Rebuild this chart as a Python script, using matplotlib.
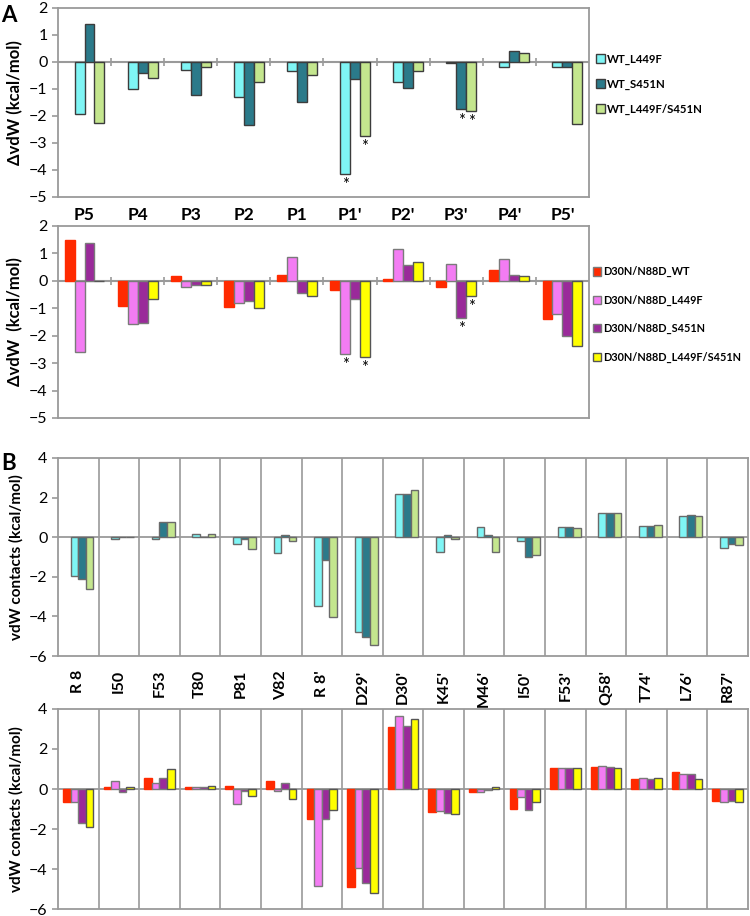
import numpy as np
import matplotlib
matplotlib.use('Agg')
import matplotlib.pyplot as plt
from matplotlib.patches import Patch

plt.rcParams['font.family'] = ['Lato', 'DejaVu Sans']

# ---- data: panel A (per-position delta vdW) ----
positions = ["P5", "P4", "P3", "P2", "P1", "P1'", "P2'", "P3'", "P4'", "P5'"]

wt_labels = ["WT_L449F", "WT_S451N", "WT_L449F/S451N"]
wt_l449f = [-1.94, -1.02, -0.29, -1.32, -0.34, -4.14, -0.73, -0.05, -0.19, -0.19]
wt_s451n = [1.40, -0.42, -1.22, -2.35, -1.49, -0.62, -0.97, -1.76, 0.39, -0.19]
wt_double = [-2.27, -0.58, -0.19, -0.76, -0.47, -2.73, -0.35, -1.81, 0.34, -2.29]
wt_stars = [(5, 0), (5, 2), (7, 1), (7, 2)]

dn_labels = ["D30N/N88D_WT", "D30N/N88D_L449F", "D30N/N88D_S451N", "D30N/N88D_L449F/S451N"]
dn_wt = [1.49, -0.91, 0.17, -0.96, 0.23, -0.34, 0.06, -0.23, 0.40, -1.38]
dn_l449f = [-2.61, -1.56, -0.23, -0.79, 0.88, -2.65, 1.15, 0.61, 0.78, -1.22]
dn_s451n = [1.39, -1.52, -0.17, -0.73, -0.46, -0.68, 0.56, -1.34, 0.23, -2.00]
dn_double = [0.0, -0.68, -0.17, -1.00, -0.57, -2.76, 0.67, -0.56, 0.16, -2.39]
dn_stars = [(5, 1), (5, 3), (7, 2), (7, 3)]

# ---- data: panel B (per-residue vdW contacts) ----
residues = ["R 8", "I50", "F53", "T80", "P81", "V82", "R 8'", "D29'", "D30'",
            "K45'", "M46'", "I50'", "F53'", "Q58'", "T74'", "L76'", "R87'"]
b_wt_l449f = [-1.94, -0.08, -0.10, 0.15, -0.34, -0.81, -3.46, -4.77, 2.19,
              -0.73, 0.51, -0.17, 0.51, 1.21, 0.57, 1.05, -0.56]
b_wt_s451n = [-2.11, 0.03, 0.76, 0.03, -0.08, 0.12, -1.15, -5.06, 2.19,
              0.12, 0.12, -1.01, 0.51, 1.21, 0.57, 1.13, -0.35]
b_wt_double = [-2.63, 0.03, 0.76, 0.15, -0.57, -0.19, -4.01, -5.46, 2.36,
               -0.08, -0.73, -0.88, 0.46, 1.21, 0.61, 1.05, -0.40]

b_dn_wt = [-0.67, 0.08, 0.53, 0.08, 0.15, 0.38, -1.48, -4.88, 3.08,
           -1.17, -0.13, -1.02, 1.03, 1.12, 0.52, 0.83, -0.58]
b_dn_l449f = [-0.67, 0.40, 0.32, 0.10, -0.75, -0.08, -4.83, -3.93, 3.65,
              -1.10, -0.13, -0.42, 1.07, 1.15, 0.53, 0.77, -0.67]
b_dn_s451n = [-1.72, -0.15, 0.53, 0.08, -0.10, 0.28, -1.48, -4.68, 3.17,
              -1.18, -0.07, -1.03, 1.03, 1.12, 0.52, 0.73, -0.58]
b_dn_double = [-1.88, 0.10, 0.98, 0.17, -0.35, -0.52, -1.05, -5.18, 3.48,
               -1.27, 0.10, -0.67, 1.07, 1.07, 0.53, 0.48, -0.67]

# ---- styles ----
WT_COLORS = ["#7ff5f5", "#2b7a8a", "#c4e68e"]
DN_COLORS = ["#ff2a00", "#f37cf3", "#9a2a9a", "#ffff00"]
DN_EDGES = ["#ff2a00", "#7a7a7a", "#7a7a7a", "#555555"]
FRAME = "#9a9a9a"
BAR_W = 0.1875

fig = plt.figure(figsize=(7.5, 9.16), dpi=100)


def frame(ax):
    for s in ax.spines.values():
        s.set_color(FRAME)
        s.set_linewidth(1.3)
    ax.tick_params(axis='y', colors=FRAME, labelcolor='black', labelsize=11.5,
                   length=4, width=1.2)


def bars(ax, series, colors, edges, first_slot):
    # four slots per group; top panels leave the first slot empty
    for k, vals in enumerate(series):
        slot = first_slot + k
        x = np.arange(len(vals)) + (slot - 1.5) * BAR_W
        ax.bar(x, vals, width=BAR_W, color=colors[k], edgecolor=edges[k],
               linewidth=1.0, zorder=3)


def panel_a(rect, series, colors, edges, first_slot, stars, xlabels, ylabel):
    ax = fig.add_axes(rect)
    bars(ax, series, colors, edges, first_slot)
    n = len(positions)
    ax.axhline(0, color=FRAME, lw=1.5, zorder=2)
    ax.vlines(np.arange(n - 1) + 0.5, -0.15, 0.15, color=FRAME, lw=1.2, zorder=2)
    for i, k in stars:
        v = series[k][i]
        ax.text(i + (first_slot + k - 1.5) * BAR_W, v - 0.12, '*', ha='center',
                va='top', fontsize=12, zorder=4)
    ax.set_xlim(-0.5, n - 0.5)
    ax.set_ylim(-5, 2)
    ax.set_yticks(range(-5, 3))
    ax.set_xticks(range(n))
    if xlabels:
        ax.set_xticklabels(positions, fontsize=12.5, fontweight='bold')
    else:
        ax.set_xticklabels([])
    ax.tick_params(axis='x', length=0, pad=7)
    frame(ax)
    ax.set_ylabel(ylabel, fontsize=12, fontweight='bold', labelpad=4)
    return ax


def panel_b(rect, series, colors, edges, xlabels):
    ax = fig.add_axes(rect)
    bars(ax, series, colors, edges, 4 - len(series))
    n = len(residues)
    ax.axhline(0, color=FRAME, lw=1.3, zorder=2)
    ax.vlines(np.arange(n - 1) + 0.5, -6, 4, color=FRAME, lw=1.2, zorder=1)
    ax.set_xlim(-0.5, n - 0.5)
    ax.set_ylim(-6, 4)
    ax.set_yticks(range(-6, 5, 2))
    ax.set_xticks(range(n))
    if xlabels:
        ax.set_xticklabels(residues, fontsize=11.5, fontweight='bold', rotation=90)
    else:
        ax.set_xticklabels([])
    ax.tick_params(axis='x', length=0, pad=10)
    frame(ax)
    ax.set_ylabel("vdW contacts (kcal/mol)", fontsize=11, fontweight='bold', labelpad=4)
    return ax


ax1 = panel_a([0.0773, 0.785, 0.708, 0.2065], [wt_l449f, wt_s451n, wt_double],
              WT_COLORS, ["#3c3c3c"] * 3, 1, wt_stars, True, "ΔvdW (kcal/mol)")
ax2 = panel_a([0.0773, 0.5437, 0.708, 0.2096], [dn_wt, dn_l449f, dn_s451n, dn_double],
              DN_COLORS, DN_EDGES, 0, dn_stars, False, "ΔvdW  (kcal/mol)")
ax3 = panel_b([0.0773, 0.2838, 0.920, 0.2162], [b_wt_l449f, b_wt_s451n, b_wt_double],
              WT_COLORS, ["#6a6a6a"] * 3, True)
ax4 = panel_b([0.0773, 0.0076, 0.920, 0.2184], [b_dn_wt, b_dn_l449f, b_dn_s451n, b_dn_double],
              DN_COLORS, DN_EDGES, False)

# legends
h1 = [Patch(facecolor=c, edgecolor="#3c3c3c", linewidth=1.0) for c in WT_COLORS]
fig.legend(h1, wt_labels, loc='upper left', bbox_to_anchor=(0.790, 0.945), frameon=False,
           handlelength=0.8, handleheight=0.8, handletextpad=0.2, labelspacing=1.2,
           borderaxespad=0, borderpad=0.3, prop={'weight': 'bold', 'size': 8.2})
h2 = [Patch(facecolor=c, edgecolor=e, linewidth=1.0) for c, e in zip(DN_COLORS, DN_EDGES)]
h2[0].set_edgecolor("#7a7a7a")
fig.legend(h2, dn_labels, loc='upper left', bbox_to_anchor=(0.786, 0.713), frameon=False,
           handlelength=0.8, handleheight=0.8, handletextpad=0.2, labelspacing=1.6,
           borderaxespad=0, borderpad=0.3, prop={'weight': 'bold', 'size': 7.8})

fig.text(0.002, 0.505, "B", fontsize=16, fontweight='bold', va='top')
fig.text(0.002, 0.994, "A", fontsize=16, fontweight='bold', va='top')

fig.savefig("out.png", dpi=100)
